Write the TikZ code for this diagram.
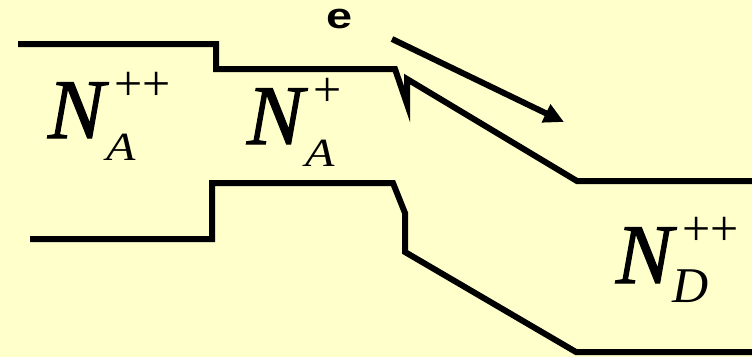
\documentclass[tikz,border=0pt]{standalone}
\usepackage{fontspec}
\setmainfont{Liberation Serif}
\setsansfont{Liberation Sans}
\newfontfamily\Nfam[FakeBold=1.4]{Liberation Serif}
\usetikzlibrary{arrows.meta}
\definecolor{bg}{RGB}{255,255,204}
\newcommand{\bigN}{{\Nfam\fontsize{85}{85}\selectfont\itshape N}}
\newcommand{\supp}[2]{\rlap{\hspace{#1}\raisebox{38pt}{\fontsize{50}{50}\selectfont #2}}}
\newcommand{\subA}[2]{\hspace{#1}\raisebox{-22pt}{\scalebox{1.2}[1]{\fontsize{40}{40}\selectfont\itshape #2}}}
\newcommand{\subD}[2]{\hspace{#1}\raisebox{-19pt}{\fontsize{50}{50}\selectfont\itshape #2}}
\tikzset{
  band/.style={line width=6pt, line join=miter, black},
  lab/.style={anchor=base west, inner sep=0pt, outer sep=0pt},
}
\begin{document}
\begin{tikzpicture}[x=1pt,y=-1pt]
\fill[bg] (0,0) rectangle (752,357);
\useasboundingbox (0,0) rectangle (752,357);
% conduction band
\draw[band] (18,44) -- (216,44) -- (216,69) -- (395,69) -- (407,104) -- (407,79) -- (577,181) -- (760,181);
% valence band
\draw[band] (30,239) -- (212,239) -- (212,183) -- (393,183) -- (405,213) -- (405,252) -- (576,352) -- (760,352);
% electron arrow
\coordinate (a0) at (392,39);
\coordinate (a1) at (564,122);
\draw[line width=6pt, -{Triangle[length=20pt,width=19pt]}] (a0) -- (a1);
\node[lab] (e) at (326,28) {\scalebox{1.3}[1]{\fontsize{36}{36}\selectfont\sffamily\bfseries e}};
% labels
\node[lab] (NA2) at (48,138) {\bigN\supp{10pt}{++}\subA{2pt}{A}};
\node[lab] (NA1) at (247,144) {\bigN\supp{10pt}{+}\subA{2pt}{A}};
\node[lab] (ND2) at (616,283) {\bigN\supp{10pt}{++}\subD{0pt}{D}};
\end{tikzpicture}
\end{document}
